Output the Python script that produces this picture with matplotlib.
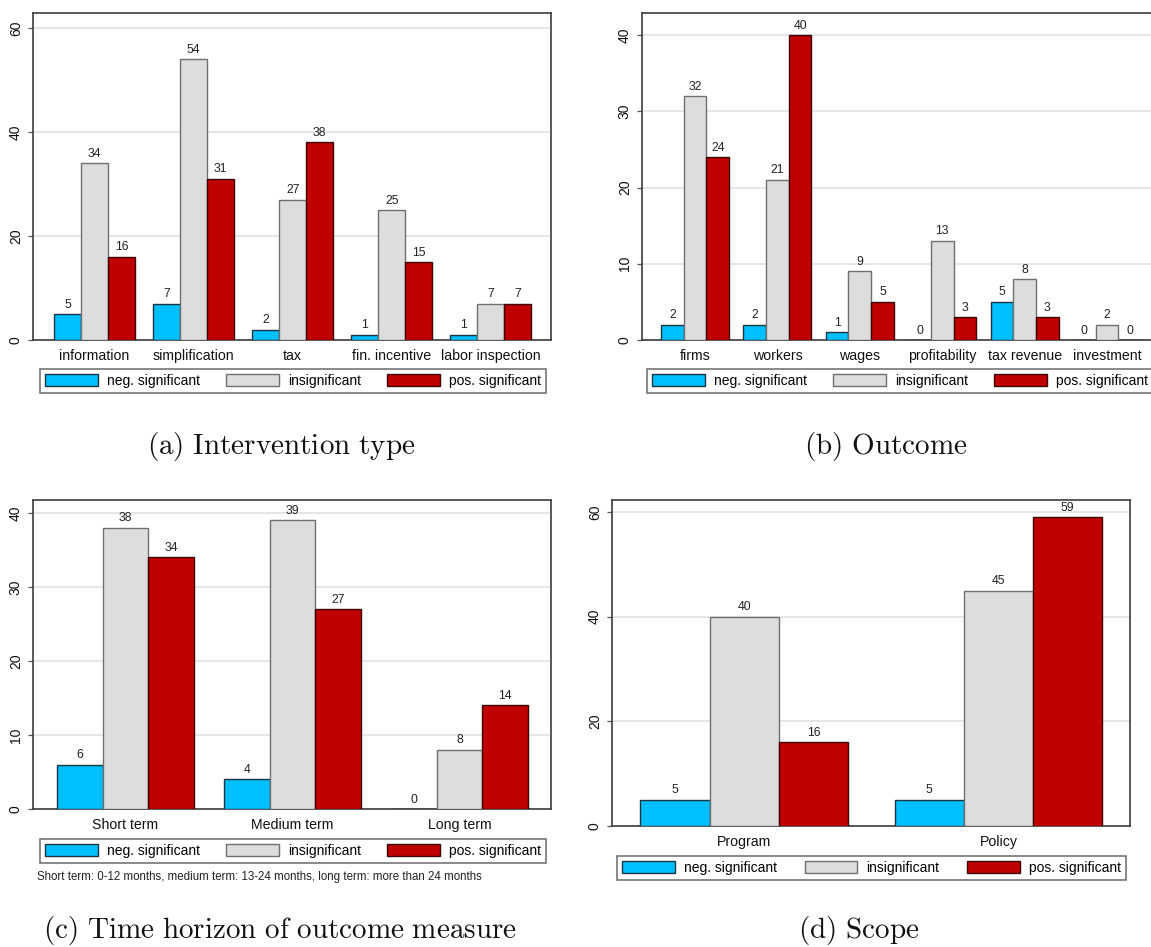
import matplotlib
matplotlib.use("Agg")
import matplotlib.pyplot as plt
from matplotlib.patches import Patch
import numpy as np

# --- data ---
series_names = ["neg. significant", "insignificant", "pos. significant"]

type_cats = ["information", "simplification", "tax", "fin. incentive", "labor inspection"]
type_neg = [5, 7, 2, 1, 1]
type_insig = [34, 54, 27, 25, 7]
type_pos = [16, 31, 38, 15, 7]

outcome_cats = ["firms", "workers", "wages", "profitability", "tax revenue", "investment"]
outcome_neg = [2, 2, 1, 0, 5, 0]
outcome_insig = [32, 21, 9, 13, 8, 2]
outcome_pos = [24, 40, 5, 3, 3, 0]

horizon_cats = ["Short term", "Medium term", "Long term"]
horizon_neg = [6, 4, 0]
horizon_insig = [38, 39, 8]
horizon_pos = [34, 27, 14]

scope_cats = ["Program", "Policy"]
scope_neg = [5, 5]
scope_insig = [40, 45]
scope_pos = [16, 59]

# --- style ---
W, H = 1151, 947
FILL = ["#00BFFF", "#DDDDDD", "#C00000"]
EDGE = ["#1c3340", "#707070", "#3a0606"]
FRAME = "#3c3c3c"
GRID = "#e4e4e4"
SANS = "Liberation Sans"
plt.rcParams["font.family"] = SANS
plt.rcParams["mathtext.fontset"] = "cm"

fig = plt.figure(figsize=(W / 100, H / 100), dpi=100)
fig.patch.set_facecolor("white")


def px_box(x0, y0, x1, y1):
    return [x0 / W, 1 - y1 / H, (x1 - x0) / W, (y1 - y0) / H]


def panel(box, cats, neg, insig, pos, ymax, yticks, xlim, leg_box, bar_w=0.273):
    ax = fig.add_axes(px_box(*box))
    x = np.arange(len(cats))
    for k, vals in enumerate([neg, insig, pos]):
        bars = ax.bar(x + (k - 1) * bar_w, vals, width=bar_w, color=FILL[k],
                      edgecolor=EDGE[k], linewidth=1.0, zorder=3)
        for b, v in zip(bars, vals):
            ax.annotate(str(v), (b.get_x() + b.get_width() / 2, v),
                        xytext=(0, 2.5), textcoords="offset points",
                        ha="center", va="bottom", fontsize=8.8, color="#222222")
    ax.set_xlim(*xlim)
    ax.set_ylim(0, ymax)
    ax.set_yticks(yticks)
    ax.set_yticklabels([str(t) for t in yticks], rotation=90, va="center", fontsize=10)
    ax.set_xticks(x)
    ax.set_xticklabels(cats, fontsize=10.2)
    ax.tick_params(axis="x", length=0, pad=6.5, colors="#111111")
    ax.tick_params(axis="y", length=3.8, width=0.9, color="#555555", pad=3.5, labelcolor="#111111")
    ax.yaxis.grid(True, color=GRID, linewidth=1.3, zorder=0)
    ax.set_axisbelow(True)
    for s in ax.spines.values():
        s.set_color(FRAME)
        s.set_linewidth(1.2)
    handles = [Patch(facecolor=FILL[k], edgecolor=EDGE[k], linewidth=1.0) for k in range(3)]
    lx0, ly0, lx1, ly1 = leg_box
    leg = ax.legend(handles, series_names, loc="center", ncol=3, mode="expand",
                    bbox_to_anchor=(lx0 / W, 1 - ly1 / H, (lx1 - lx0) / W, (ly1 - ly0) / H),
                    bbox_transform=fig.transFigure, fontsize=10, frameon=True,
                    fancybox=False, handlelength=3.8, handleheight=0.95,
                    handletextpad=0.65, borderpad=0.35, borderaxespad=0,
                    columnspacing=1.5)
    leg.get_frame().set_edgecolor("#444444")
    leg.get_frame().set_linewidth(1.1)
    return ax


panel((33, 13, 551, 340), type_cats, type_neg, type_insig, type_pos,
      62.9, [0, 20, 40, 60], (-0.621, 4.607), (40, 368, 546, 394))
panel((642, 13, 1160, 340), outcome_cats, outcome_neg, outcome_insig, outcome_pos,
      42.9, [0, 10, 20, 30, 40], (-0.644, 5.644), (647, 368, 1153, 394), bar_w=0.275)
panel((33, 500, 551, 809), horizon_cats, horizon_neg, horizon_insig, horizon_pos,
      41.76, [0, 10, 20, 30, 40], (-0.554, 2.548), (40, 838, 546, 864))
panel((612, 500, 1130, 826), scope_cats, scope_neg, scope_insig, scope_pos,
      62.3, [0, 20, 40, 60], (-0.52, 1.517), (617, 855, 1126, 881), bar_w=0.272)

fig.text(37 / W, 1 - 877 / H,
         "Short term: 0-12 months, medium term: 13-24 months, long term: more than 24 months",
         fontsize=8.3, ha="left", va="center", color="#222222")

captions = [(281, 446, r"$\mathrm{(a)\ Intervention\ type}$"),
            (886, 446, r"$\mathrm{(b)\ Outcome}$"),
            (280, 930, r"$\mathrm{(c)\ Time\ horizon\ of\ outcome\ measure}$"),
            (859, 930, r"$\mathrm{(d)\ Scope}$")]
for cx, cy, txt in captions:
    fig.text(cx / W, 1 - cy / H, txt, fontsize=21, ha="center", va="center", color="#111111")

fig.savefig("out.png", dpi=100, facecolor="white")
